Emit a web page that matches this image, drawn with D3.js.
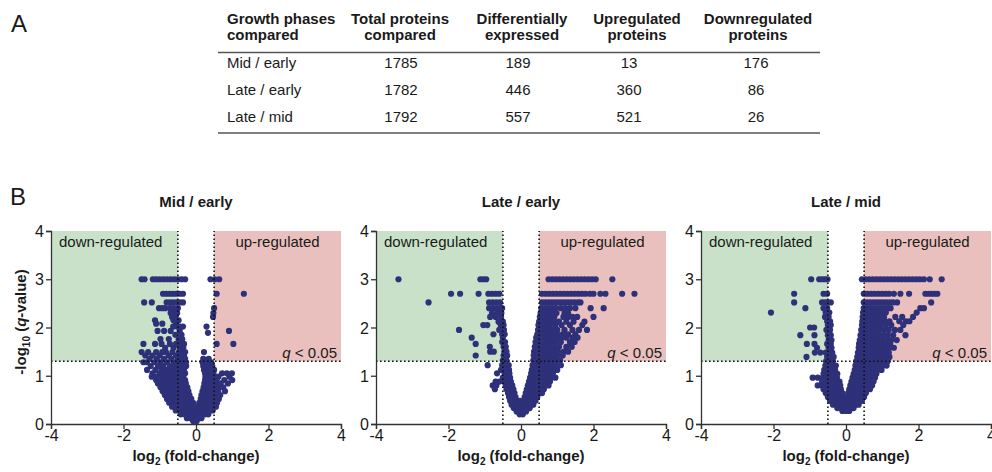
<!DOCTYPE html>
<html>
<head>
<meta charset="utf-8">
<script src="https://cdn.jsdelivr.net/npm/d3@7"></script>
<style>
  body { margin: 0; background: #fff; }
  text { font-family: "Liberation Sans", Arial, sans-serif; fill: #1a1a1a; }
</style>
</head>
<body>
<script>
// ---- panel A: summary table ----
var tableHead = [["Growth phases", "compared"], ["Total proteins", "compared"],
                 ["Differentially", "expressed"], ["Upregulated", "proteins"],
                 ["Downregulated", "proteins"]];
var comparisons = ["Mid / early", "Late / early", "Late / mid"];
var totalProteins = [1785, 1782, 1792];
var diffExpressed = [189, 446, 557];
var upregulated = [13, 360, 521];
var downregulated = [176, 86, 26];

// ---- panel B: volcano plots ----
var xTicks = [-4, -2, 0, 2, 4];
var yTicks = [0, 1, 2, 3, 4];
var foldCut = 0.5;   // |log2 fc| threshold
var qCut = 0.05;

// rows of points: [-log10 q, [log2 fc, ...]]
var midEarly = [
  [3.00, [-1.50, -1.42, -1.19, -1.10, -1.00, -0.90, -0.80, -0.70, -0.60, -0.50, -0.40, -0.30, 0.40, 0.52, 0.64]],
  [2.70, [-0.91, -0.82, -0.73, -0.64, -0.55, -0.45, -0.36, 0.57, 1.32]],
  [2.52, [-1.43, -1.22, -0.81, -0.72, -0.63, -0.54, -0.45, -0.36]],
  [2.40, [-1.02, -0.93, -0.85, -0.72, -0.62, -0.50, 0.50]],
  [2.30, [-0.70, -0.60, -0.52, 0.48]],
  [2.22, [-0.66, -0.56, 0.47]],
  [2.15, [-1.13, -0.62, -0.48]],
  [2.08, [-1.10, -0.93, -0.55]],
  [2.02, [-0.63, -0.52, -0.44, -0.36, 0.29]],
  [1.93, [-1.06, -0.88, -0.70, -0.45, 0.91]],
  [1.89, [0.33]],
  [1.85, [-0.57, -0.40]],
  [1.76, [-0.98, -0.75, -0.48, -0.38]],
  [1.66, [-1.45, -1.13, -0.95, -0.72, -0.55, -0.42, -0.33, 0.57, 1.03]],
  [1.58, [-0.85, -0.62, -0.45, -0.35]],
  [1.49, [-1.50, -1.32, -1.10, -0.93, -0.83, -0.65, -0.47, -0.38, -0.30, 0.22]],
  [1.42, [-1.40, -1.20, -1.00, -0.75, -0.55, -0.42, -0.33]],
  [1.35, [-1.28, -1.08, -0.88, -0.68, -0.50, -0.38, -0.30, 0.20, 0.35]],
  [1.28, [-1.45, -1.35, -1.15, -0.98, -0.80, -0.62, -0.48, -0.37, -0.28, 0.18, 0.30, 0.42]],
  [1.20, [-1.25, -1.05, -0.90, -0.72, -0.58, -0.46, -0.35, -0.27, 0.20, 0.32, 0.45]],
  [1.12, [-1.35, -1.12, -0.95, -0.82, -0.66, -0.54, -0.43, -0.33, 0.22, 0.34, 0.50]],
  [1.05, [-1.20, -1.00, -0.88, -0.75, -0.62, -0.50, -0.40, -0.30, 0.25, 0.37, 0.48, 0.72, 0.85, 0.99]],
  [0.98, [-1.22, -1.08, -0.92, -0.80, -0.68, -0.56, -0.45, -0.35, 0.26, 0.38, 0.50, 0.62, 0.92]],
  [0.91, [-1.10, -0.97, -0.85, -0.73, -0.61, -0.50, -0.40, -0.30, 0.25, 0.35, 0.46, 0.57, 0.78, 1.00]],
  [0.84, [-1.05, -0.93, -0.81, -0.69, -0.58, -0.47, -0.37, -0.28, 0.23, 0.33, 0.44, 0.55, 0.68, 0.88]],
  [0.76, [-0.98, -0.86, -0.75, -0.64, -0.53, -0.43, -0.33, -0.24, 0.21, 0.31, 0.42, 0.53, 0.64, 0.75]],
  [0.68, [-0.92, -0.81, -0.70, -0.60, -0.50, -0.40, -0.30, -0.21, 0.18, 0.28, 0.39, 0.50, 0.61, 0.80]],
  [0.60, [-0.86, -0.75, -0.65, -0.55, -0.45, -0.35, -0.26, -0.18, 0.15, 0.25, 0.36, 0.47, 0.58, 0.67]],
  [0.52, [-0.80, -0.70, -0.60, -0.50, -0.40, -0.30, -0.21, -0.13, 0.13, 0.22, 0.32, 0.43, 0.54, 0.63]],
  [0.44, [-0.74, -0.64, -0.54, -0.44, -0.34, -0.25, -0.16, -0.08, 0.09, 0.18, 0.28, 0.38, 0.48, 0.58]],
  [0.36, [-0.66, -0.56, -0.46, -0.36, -0.27, -0.18, -0.09, 0.00, 0.09, 0.18, 0.28, 0.38, 0.48, 0.55]],
  [0.28, [-0.56, -0.46, -0.36, -0.27, -0.18, -0.09, 0.00, 0.09, 0.18, 0.28, 0.38, 0.46]],
  [0.20, [-0.42, -0.32, -0.22, -0.12, -0.03, 0.06, 0.15, 0.25, 0.34]],
  [0.12, [-0.25, -0.15, -0.05, 0.05, 0.15]],
  [0.06, [-0.08, 0.02]]
];

var lateEarly = [
  [3.00, [-3.38, -1.12, -1.04, -0.96, 0.76, 0.86, 0.96, 1.06, 1.16, 1.26, 1.36, 1.46, 1.56, 1.66, 1.76, 1.86, 1.96, 2.06, 2.52]],
  [2.70, [-1.93, -1.68, -1.17, -0.90, -0.80, -0.70, -0.60, 0.58, 0.68, 0.78, 0.88, 0.98, 1.08, 1.18, 1.28, 1.38, 1.48, 1.58, 1.68, 1.78, 1.90, 2.00, 2.19, 2.33, 2.79, 3.13]],
  [2.52, [-2.55, -0.88, -0.78, -0.68, -0.58, 0.58, 0.67, 0.76, 0.85, 0.94, 1.03, 1.12, 1.21, 1.30, 1.39, 1.48, 1.57, 1.64]],
  [2.40, [-0.88, -0.78, -0.68, -0.58, -0.52, 0.56, 0.66, 0.76, 0.86, 0.96, 1.10, 1.22, 1.35, 1.50, 1.92, 2.28]],
  [2.30, [-0.80, -0.65, -0.54, 0.54, 0.64, 0.74, 0.84, 0.98, 1.20, 1.30]],
  [2.22, [-0.85, -0.70, -0.55, 0.52, 0.62, 0.72, 0.82, 0.92, 1.17, 1.30, 1.42, 1.55, 2.00]],
  [2.12, [-0.62, -0.50, 0.50, 0.60, 0.70, 0.80, 0.92, 1.05, 1.25, 1.45, 1.75]],
  [2.05, [-1.04, -0.93, -0.56, -0.48, 0.48, 0.58, 0.68, 0.80, 0.95, 1.12, 1.35, 1.69]],
  [1.95, [-1.71, -0.60, -0.47, 0.47, 0.56, 0.66, 0.76, 0.88, 1.00, 1.20, 1.42, 1.60, 1.82]],
  [1.86, [-0.76, -0.52, -0.45, 0.45, 0.54, 0.64, 0.74, 0.86, 1.00, 1.15, 1.30, 1.50]],
  [1.79, [-1.36, -0.50, 0.42, 0.52, 0.62, 0.72, 0.84, 0.98, 1.12, 1.25, 1.42, 1.56]],
  [1.70, [-0.52, -0.44, 0.40, 0.50, 0.60, 0.70, 0.82, 0.95, 1.10, 1.35, 1.48]],
  [1.66, [-1.25]],
  [1.60, [-0.86, -0.48, -0.42, 0.38, 0.48, 0.58, 0.68, 0.80, 0.92, 1.05, 1.25, 1.40]],
  [1.50, [-0.85, -0.75, -0.46, -0.40, 0.36, 0.46, 0.56, 0.66, 0.78, 0.90, 1.02, 1.18, 1.30]],
  [1.42, [-1.25, -0.48, -0.38, 0.35, 0.44, 0.54, 0.64, 0.76, 0.88, 1.00, 1.15]],
  [1.32, [-0.50, -0.40, 0.34, 0.43, 0.52, 0.62, 0.74, 0.86, 0.98, 1.08]],
  [1.22, [-0.92, -0.52, -0.42, -0.34, 0.32, 0.40, 0.50, 0.60, 0.72, 0.84, 0.95, 1.10]],
  [1.12, [-0.55, -0.44, -0.33, 0.30, 0.38, 0.47, 0.57, 0.68, 0.80, 0.92, 1.00]],
  [1.05, [-0.66, -0.45, -0.32, 0.28, 0.36, 0.45, 0.55, 0.65, 0.76, 0.88]],
  [0.96, [-0.50, -0.40, -0.30, 0.25, 0.33, 0.42, 0.52, 0.62, 0.72, 0.84, 0.95]],
  [0.88, [-0.70, -0.60, -0.48, -0.38, -0.28, 0.22, 0.30, 0.39, 0.49, 0.59, 0.69, 0.80]],
  [0.80, [-0.78, -0.68, -0.42, -0.33, -0.24, 0.19, 0.27, 0.36, 0.46, 0.56, 0.66, 0.76]],
  [0.72, [-0.72, -0.40, -0.30, -0.21, 0.16, 0.24, 0.33, 0.43, 0.53, 0.63]],
  [0.64, [-0.36, -0.27, -0.18, 0.13, 0.21, 0.30, 0.40, 0.50, 0.58]],
  [0.56, [-0.33, -0.24, -0.15, 0.10, 0.18, 0.27, 0.36, 0.45]],
  [0.48, [-0.30, -0.21, -0.12, -0.03, 0.07, 0.15, 0.24, 0.33, 0.40]],
  [0.40, [-0.26, -0.17, -0.08, 0.01, 0.10, 0.19, 0.28, 0.34]],
  [0.33, [-0.20, -0.11, -0.02, 0.07, 0.16, 0.24]],
  [0.26, [-0.12, -0.03, 0.06, 0.14]],
  [0.20, [-0.04, 0.05]]
];

var lateMid = [
  [3.00, [-0.96, -0.74, -0.66, -0.58, -0.51, 0.44, 0.54, 0.64, 0.74, 0.84, 0.94, 1.04, 1.14, 1.24, 1.34, 1.44, 1.54, 1.64, 1.74, 1.84, 1.94, 2.04, 2.15, 2.31, 2.64]],
  [2.70, [-1.43, -0.62, -0.52, 0.49, 0.59, 0.69, 0.79, 0.89, 0.99, 1.09, 1.19, 1.32, 1.50, 1.74, 2.19, 2.28, 2.36, 2.44, 2.52]],
  [2.52, [-1.43, -0.66, -0.58, -0.50, -0.42, 0.49, 0.58, 0.67, 0.76, 0.85, 0.94, 1.03, 1.12, 1.21, 1.30, 1.41, 2.35]],
  [2.40, [-1.12, -0.62, -0.52, 0.49, 0.58, 0.67, 0.76, 0.86, 0.96, 1.06, 1.15, 1.23, 2.05, 2.15]],
  [2.31, [-2.07, -0.56, -0.46, 0.47, 0.56, 0.66, 0.76, 0.88, 1.00, 1.10, 1.95]],
  [2.22, [-0.58, -0.48, 0.46, 0.55, 0.64, 0.74, 0.84, 0.95, 1.05, 1.36, 1.55, 1.85]],
  [2.13, [-0.52, -0.44, 0.45, 0.54, 0.63, 0.73, 0.84, 0.96, 1.08, 1.20, 1.47, 1.65, 1.75]],
  [2.05, [-0.50, -0.42, 0.44, 0.53, 0.62, 0.72, 0.83, 0.95, 1.10, 1.25, 1.58]],
  [2.00, [-0.99, -0.88]],
  [1.95, [-0.54, -0.44, 0.42, 0.51, 0.60, 0.70, 0.81, 0.92, 1.05, 1.18, 1.35, 1.50]],
  [1.84, [-1.26, -0.87, -0.50, -0.42, 0.40, 0.49, 0.58, 0.68, 0.78, 0.90, 1.02, 1.15, 1.30, 1.64]],
  [1.74, [-0.48, -0.40, 0.38, 0.47, 0.56, 0.66, 0.76, 0.88, 1.00, 1.12, 1.25, 1.40]],
  [1.66, [-1.08, -0.87, -0.52, -0.42, 0.36, 0.45, 0.54, 0.64, 0.74, 0.86, 0.98, 1.10, 1.22]],
  [1.58, [-0.80, -0.48, -0.40, 0.35, 0.44, 0.53, 0.63, 0.73, 0.85, 0.97, 1.08, 1.20, 1.32]],
  [1.48, [-0.86, -0.71, -0.56, -0.45, -0.38, 0.33, 0.42, 0.51, 0.61, 0.72, 0.84, 0.96, 1.06, 1.18]],
  [1.39, [-1.09, -0.52, -0.42, -0.34, 0.31, 0.40, 0.50, 0.60, 0.71, 0.83, 0.95, 1.08, 1.20]],
  [1.30, [-0.55, -0.46, -0.36, 0.28, 0.37, 0.47, 0.57, 0.68, 0.80, 0.92, 1.04, 1.15]],
  [1.21, [-0.57, -0.47, -0.37, -0.28, 0.26, 0.35, 0.45, 0.55, 0.66, 0.78, 0.90, 1.02, 1.12]],
  [1.12, [-0.60, -0.50, -0.40, -0.30, 0.24, 0.33, 0.43, 0.53, 0.64, 0.75, 0.87, 0.98]],
  [1.04, [-0.62, -0.52, -0.42, -0.32, -0.24, 0.21, 0.30, 0.40, 0.50, 0.61, 0.72, 0.84]],
  [0.96, [-0.92, -0.78, -0.64, -0.54, -0.44, -0.34, -0.25, 0.18, 0.27, 0.37, 0.47, 0.58, 0.69, 0.80]],
  [0.88, [-0.66, -0.56, -0.46, -0.36, -0.27, -0.18, 0.15, 0.24, 0.34, 0.44, 0.55, 0.66, 0.76]],
  [0.80, [-0.78, -0.66, -0.56, -0.46, -0.36, -0.27, -0.16, 0.12, 0.21, 0.31, 0.41, 0.52, 0.62, 0.72]],
  [0.72, [-0.62, -0.52, -0.42, -0.33, -0.24, -0.14, 0.09, 0.18, 0.28, 0.38, 0.48, 0.58, 0.66]],
  [0.64, [-0.56, -0.46, -0.37, -0.28, -0.19, -0.10, 0.06, 0.15, 0.25, 0.35, 0.45, 0.55]],
  [0.56, [-0.50, -0.41, -0.32, -0.23, -0.14, -0.06, 0.04, 0.13, 0.22, 0.32, 0.42, 0.50]],
  [0.48, [-0.44, -0.35, -0.26, -0.17, -0.08, 0.01, 0.10, 0.19, 0.28, 0.37, 0.44]],
  [0.40, [-0.36, -0.27, -0.18, -0.09, 0.00, 0.09, 0.18, 0.27, 0.35]],
  [0.33, [-0.24, -0.15, -0.06, 0.03, 0.12, 0.21]],
  [0.27, [-0.10, 0.00, 0.09]]
];

var panels = [
  { title: "Mid / early", rows: midEarly },
  { title: "Late / early", rows: lateEarly },
  { title: "Late / mid", rows: lateMid }
];

var svg = d3.select("body").append("svg")
    .attr("width", 992)
    .attr("height", 472);

/* ----- A: table ----- */
svg.append("text").attr("x", 11).attr("y", 32).style("font-size", "24px").text("A");

var headX = [227, 400, 522, 637, 758];
var cellX = [227, 401, 518, 629, 756];

tableHead.forEach(function(h, i) {
  h.forEach(function(line, k) {
    svg.append("text")
        .attr("x", headX[i])
        .attr("y", 24 + k * 16)
        .attr("text-anchor", i === 0 ? "start" : "middle")
        .style("font-size", "15px")
        .style("font-weight", "bold")
        .text(line);
  });
});

[52.5, 133].forEach(function(yy) {
  svg.append("line")
      .attr("x1", 218).attr("x2", 820)
      .attr("y1", yy).attr("y2", yy)
      .attr("stroke", "#555").attr("stroke-width", 1.6);
});

comparisons.forEach(function(c, r) {
  var cells = [c, totalProteins[r], diffExpressed[r], upregulated[r], downregulated[r]];
  cells.forEach(function(v, i) {
    svg.append("text")
        .attr("x", cellX[i])
        .attr("y", 67.5 + r * 27)
        .attr("text-anchor", i === 0 ? "start" : "middle")
        .style("font-size", "15px")
        .text(v);
  });
});

/* ----- B: volcano plots ----- */
svg.append("text").attr("x", 10).attr("y", 205).style("font-size", "24px").text("B");

var plotTop = 231, plotW = 290, plotH = 193;
var qLine = -Math.log10(qCut);

panels.forEach(function(p, i) {
  var left = 51 + i * 325;
  var x = d3.scaleLinear().domain([-4, 4]).range([0, plotW]);
  var y = d3.scaleLinear().domain([0, 4]).range([plotH, 0]);

  var g = svg.append("g").attr("transform", "translate(" + left + "," + plotTop + ")");

  // shaded regions
  g.append("rect")
      .attr("x", x(-4)).attr("y", y(4))
      .attr("width", x(-foldCut) - x(-4))
      .attr("height", y(qLine) - y(4))
      .attr("fill", "#c8e1c8");
  g.append("rect")
      .attr("x", x(foldCut)).attr("y", y(4))
      .attr("width", x(4) - x(foldCut))
      .attr("height", y(qLine) - y(4))
      .attr("fill", "#e9c0bd");

  // points
  var pts = [];
  p.rows.forEach(function(r) {
    r[1].forEach(function(v) { pts.push([v, r[0]]); });
  });
  g.selectAll("circle.pt")
      .data(pts)
      .enter().append("circle")
      .attr("class", "pt")
      .attr("cx", function(d) { return x(d[0]); })
      .attr("cy", function(d) { return y(d[1]); })
      .attr("r", 3.1)
      .attr("fill", "#2e3179");

  // dotted threshold lines
  var dot = function(sel) {
    sel.attr("stroke", "#111").attr("stroke-width", 1.6).attr("stroke-dasharray", "1.6,2.4");
  };
  [-foldCut, foldCut].forEach(function(f) {
    g.append("line").attr("x1", x(f)).attr("x2", x(f))
        .attr("y1", y(0)).attr("y2", y(4)).call(dot);
  });
  g.append("line").attr("x1", x(-4)).attr("x2", x(4))
      .attr("y1", y(qLine)).attr("y2", y(qLine)).call(dot);

  // axes
  var xAxis = g.append("g")
      .attr("transform", "translate(0," + plotH + ")")
      .call(d3.axisBottom(x).tickValues(xTicks).tickSize(5).tickPadding(1)
            .tickFormat(function(d) { return String(d); }));
  var yAxis = g.append("g")
      .call(d3.axisLeft(y).tickValues(yTicks).tickSize(5).tickPadding(2)
            .tickFormat(function(d) { return String(d); }));
  [xAxis, yAxis].forEach(function(a) {
    a.select(".domain").attr("stroke", "#333").attr("stroke-width", 1.3);
    a.selectAll(".tick line").attr("stroke", "#333").attr("stroke-width", 1.3);
    a.selectAll(".tick text")
        .style("font-family", "'Liberation Sans', Arial, sans-serif")
        .style("font-size", "16px")
        .attr("fill", "#222");
  });
  yAxis.selectAll(".tick text").attr("dy", "0.35em");

  // region labels
  g.append("text")
      .attr("x", x(-4) + 8).attr("y", 15.5)
      .style("font-size", "15px")
      .text("down-regulated");
  g.append("text")
      .attr("x", (x(foldCut) + x(4)) / 2).attr("y", 15.5)
      .attr("text-anchor", "middle")
      .style("font-size", "15px")
      .text("up-regulated");
  var qt = g.append("text")
      .attr("x", x(4) - 4).attr("y", y(qLine) - 3.5)
      .attr("text-anchor", "end")
      .style("font-size", "15px");
  qt.append("tspan").style("font-style", "italic").text("q");
  qt.append("tspan").text(" < 0.05");

  // title
  svg.append("text")
      .attr("x", left + plotW / 2).attr("y", 207)
      .attr("text-anchor", "middle")
      .style("font-size", "15px")
      .style("font-weight", "bold")
      .text(p.title);

  // x label
  var xl = svg.append("text")
      .attr("x", left + plotW / 2).attr("y", 461)
      .attr("text-anchor", "middle")
      .style("font-size", "15px")
      .style("font-weight", "bold");
  xl.append("tspan").text("log");
  xl.append("tspan").attr("dy", 4).style("font-size", "10px").text("2");
  xl.append("tspan").attr("dy", -4).text(" (fold-change)");

  // y label on first panel only
  if (i === 0) {
    var yl = svg.append("text")
        .attr("transform", "translate(26,322) rotate(-90)")
        .attr("text-anchor", "middle")
        .style("font-size", "15px")
        .style("font-weight", "bold");
    yl.append("tspan").text("-log");
    yl.append("tspan").attr("dy", 4).style("font-size", "10px").text("10");
    yl.append("tspan").attr("dy", -4).text(" (");
    yl.append("tspan").style("font-style", "italic").text("q");
    yl.append("tspan").text("-value)");
  }
});
</script>
</body>
</html>
